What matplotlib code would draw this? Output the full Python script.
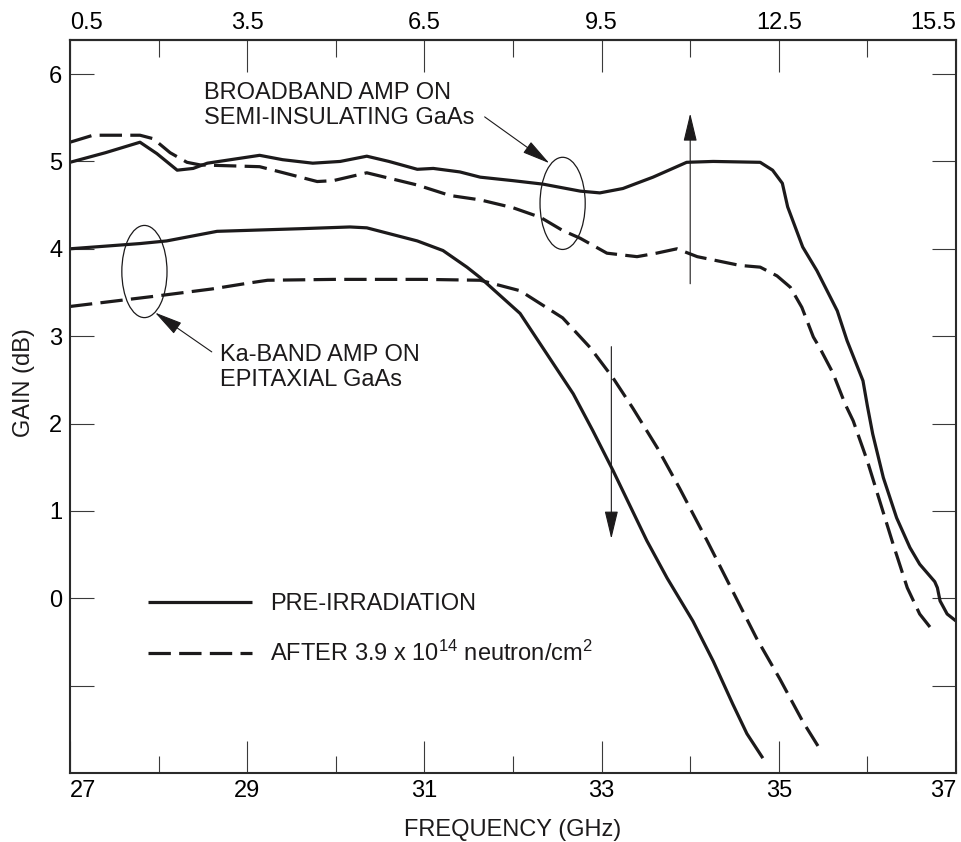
"""Gain vs frequency for two GaAs MMIC amplifiers, before and after
neutron irradiation. Bottom axis is the Ka-band sweep, top axis the
broadband sweep."""

import matplotlib

matplotlib.use("Agg")
import matplotlib.pyplot as plt
from matplotlib.patches import Ellipse

INK = "#1c1a1b"
TICK = "#3a3a3a"

plt.rcParams.update({
    "font.family": "Liberation Sans",
    "font.size": 17,
    "mathtext.fontset": "custom",
    "mathtext.rm": "Liberation Sans",
    "mathtext.it": "Liberation Sans:italic",
    "text.color": INK,
    "axes.labelcolor": INK,
})

# broadband amp on semi-insulating GaAs (read against the bottom GHz scale)
bb_pre_f = [27.00, 27.40, 27.79, 27.98, 28.21, 28.39, 28.55, 29.14, 29.40,
            29.74, 30.05, 30.35, 30.60, 30.92, 31.10, 31.40, 31.63, 32.00,
            32.34, 32.76, 32.98, 33.24, 33.58, 33.96, 34.26, 34.79, 34.93,
            35.04, 35.10, 35.27, 35.43, 35.66, 35.77, 35.95, 36.00, 36.06,
            36.18, 36.33, 36.48, 36.59, 36.76, 36.79, 36.82, 36.90, 37.00]
bb_pre_g = [4.99, 5.10, 5.22, 5.09, 4.90, 4.92, 4.98, 5.07, 5.02,
            4.98, 5.00, 5.06, 5.00, 4.91, 4.92, 4.88, 4.82, 4.78,
            4.74, 4.66, 4.64, 4.69, 4.82, 4.99, 5.00, 4.99, 4.90,
            4.75, 4.48, 4.02, 3.75, 3.29, 2.95, 2.49, 2.20, 1.88,
            1.38, 0.92, 0.58, 0.39, 0.19, 0.12, -0.03, -0.18, -0.26]

bb_post_f = [27.00, 27.26, 27.79, 27.94, 28.13, 28.32, 28.47, 29.14, 29.41,
             29.79, 29.97, 30.35, 30.92, 31.29, 31.63, 32.00, 32.31, 32.56,
             32.76, 33.06, 33.40, 33.62, 33.85, 34.08, 34.56, 34.79, 34.98,
             35.13, 35.26, 35.39, 35.46, 35.61, 35.75, 35.84, 36.00, 36.14,
             36.29, 36.45, 36.59, 36.73]
bb_post_g = [5.22, 5.30, 5.30, 5.26, 5.10, 4.99, 4.96, 4.94, 4.87,
             4.77, 4.78, 4.87, 4.73, 4.61, 4.56, 4.47, 4.36, 4.21,
             4.12, 3.95, 3.91, 3.95, 4.00, 3.91, 3.81, 3.79, 3.69,
             3.56, 3.33, 2.99, 2.87, 2.58, 2.22, 2.03, 1.57, 1.11,
             0.62, 0.12, -0.18, -0.36]

# Ka-band amp on epitaxial GaAs
ka_pre_f = [27.00, 27.79, 28.09, 28.66, 29.60, 30.16, 30.35, 30.92, 31.21,
            31.48, 31.63, 32.08, 32.38, 32.68, 32.90, 33.13, 33.32, 33.51,
            33.74, 34.03, 34.26, 34.48, 34.64, 34.82]
ka_pre_g = [4.00, 4.06, 4.09, 4.20, 4.23, 4.25, 4.24, 4.09, 3.98,
            3.79, 3.67, 3.26, 2.80, 2.34, 1.92, 1.46, 1.06, 0.66,
            0.23, -0.26, -0.72, -1.21, -1.55, -1.83]

ka_post_f = [27.00, 27.98, 28.60, 29.03, 29.23, 29.98, 31.00, 31.63, 32.08,
             32.56, 32.87, 33.13, 33.35, 33.63, 33.88, 34.19, 34.30, 34.48,
             34.75, 35.01, 35.27, 35.46]
ka_post_g = [3.34, 3.46, 3.54, 3.61, 3.64, 3.65, 3.65, 3.64, 3.52,
             3.21, 2.87, 2.52, 2.18, 1.72, 1.26, 0.66, 0.44, 0.08,
             -0.46, -0.92, -1.41, -1.72]

y_ticks = [-1, 0, 1, 2, 3, 4, 5, 6]
y_labels = ["", "0", "1", "2", "3", "4", "5", "6"]
x_major = [27, 29, 31, 33, 35, 37]
x_minor = [28, 30, 32, 34, 36]
top_major = [0.5, 3.5, 6.5, 9.5, 12.5, 15.5]
top_minor = [2, 5, 8, 11, 14]

LW = 2.3
DASH = (7, 2.6)

fig = plt.figure(figsize=(9.61, 8.42), dpi=100)
ax = fig.add_axes([70 / 961, 69 / 842, 886 / 961, 733 / 842])

pre, = ax.plot(bb_pre_f, bb_pre_g, color=INK, lw=LW, solid_capstyle="butt",
               label="PRE-IRRADIATION")
post, = ax.plot(bb_post_f, bb_post_g, color=INK, lw=LW, dashes=DASH,
                label="AFTER 3.9 x 10$^{14}$ neutron/cm$^2$")
ax.plot(ka_pre_f, ka_pre_g, color=INK, lw=LW, solid_capstyle="butt")
ax.plot(ka_post_f, ka_post_g, color=INK, lw=LW, dashes=DASH)

ax.set_xlim(27, 37)
ax.set_ylim(-2.0, 6.39)

# callouts: ellipse round each pair of curves, pointer from its caption
for cx, cy in [(32.56, 4.52), (27.84, 3.74)]:
    ax.add_patch(Ellipse((cx, cy), 0.51, 1.055, fill=False, ec=INK, lw=0.9))

head = "-|>,head_length=1.75,head_width=0.42"
arrow = dict(arrowstyle=head, lw=0.8, color=INK, fc=INK, mutation_scale=10,
             shrinkA=0, shrinkB=0)
ax.annotate("", xy=(32.41, 4.98), xytext=(31.68, 5.51), arrowprops=arrow)
ax.annotate("", xy=(27.96, 3.27), xytext=(28.60, 2.82), arrowprops=arrow)
ax.annotate("", xy=(34.0, 5.55), xytext=(34.0, 3.60), arrowprops=arrow)
ax.annotate("", xy=(33.11, 0.68), xytext=(33.11, 2.88), arrowprops=arrow)

ax.text(28.51, 5.64, "BROADBAND AMP ON\nSEMI-INSULATING GaAs",
        ha="left", va="center", linespacing=1.15)
ax.text(28.69, 2.64, "Ka-BAND AMP ON\nEPITAXIAL GaAs",
        ha="left", va="center", linespacing=1.15)

ax.legend(handles=[pre, post], loc="upper left",
          bbox_to_anchor=(0.088, 0.245), frameon=False, borderpad=0,
          borderaxespad=0, handlelength=4.4, handletextpad=0.76,
          labelspacing=1.08)

# bottom / left / right ticks
ax.set_xticks(x_major)
ax.set_xticks(x_minor, minor=True)
ax.set_yticks(y_ticks)
ax.set_yticklabels(y_labels)
ax.tick_params(axis="x", which="major", direction="in", length=23,
               width=0.8, color=TICK, pad=5)
ax.tick_params(axis="x", which="minor", direction="in", length=12.5,
               width=0.8, color=TICK)
ax.tick_params(axis="y", direction="in", length=17, width=0.8, color=TICK,
               right=True, pad=5.5)

# top scale for the broadband sweep
top = ax.secondary_xaxis("top", functions=(lambda x: 0.5 + (x - 27) * 1.5,
                                           lambda t: 27 + (t - 0.5) / 1.5))
top.set_xticks(top_major)
top.set_xticklabels([f"{v:g}" for v in top_major])
top.set_xticks(top_minor, minor=True)
top.tick_params(axis="x", which="major", direction="in", length=23,
                width=0.8, color=TICK, pad=4)
top.tick_params(axis="x", which="minor", direction="in", length=12.5,
                width=0.8, color=TICK)
top.spines["top"].set_linewidth(1.5)

# end labels sit inside the frame, flush with the corners
for labels in (ax.get_xticklabels(), top.get_xticklabels()):
    labels[0].set_ha("left")
    labels[-1].set_ha("right")

for sp in ax.spines.values():
    sp.set_linewidth(1.5)
    sp.set_color("#2a2a2a")

ax.set_xlabel("FREQUENCY (GHz)")
ax.set_ylabel("GAIN (dB)")
ax.xaxis.set_label_coords(0.5, -0.063)
ax.yaxis.set_label_coords(-0.040, 0.532)

fig.savefig("out.png", dpi=100)
